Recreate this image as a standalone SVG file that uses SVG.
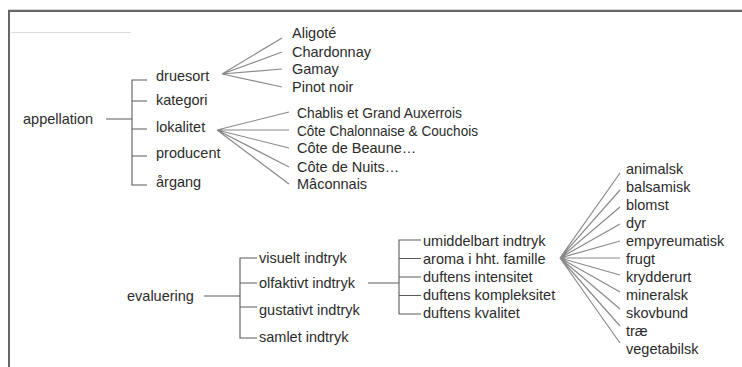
<svg xmlns="http://www.w3.org/2000/svg" width="742" height="367" viewBox="0 0 742 367">
<style>
text{font-family:"Liberation Sans",Arial,sans-serif;font-size:14.5px;fill:#2b2b2b}
.br{fill:none;stroke:#5a5a5a;stroke-width:1.1}
.fan{fill:none;stroke:#8a8a8a;stroke-width:1.2}
</style>
<rect width="742" height="367" fill="#ffffff"/>
<g id="frame">
<line x1="8" y1="9.5" x2="742" y2="9.5" stroke="#d8d8d8" stroke-width="1"/>
<line x1="8" y1="11" x2="742" y2="11" stroke="#666666" stroke-width="2"/>
<line x1="9" y1="10" x2="9" y2="367" stroke="#666666" stroke-width="2"/>
<line x1="11" y1="32.5" x2="131" y2="32.5" stroke="#dcdcdc" stroke-width="1"/>
</g>
<g id="connectors">
<path class="br" d="M106,119 H132 M147,80 H132 V185 H147 M132,101 H147 M132,129 H147 M132,156 H147"/>
<path class="fan" d="M222,74 L282,38 M222,74 L282,52 M222,74 L282,69 M222,74 L282,87"/>
<path class="fan" d="M217,130 L289,112 M217,130 L289,130 M217,130 L289,148 M217,130 L289,167 M217,130 L289,184"/>
<path class="br" d="M204,296 H240 M257,258 H240 V338 H257 M240,283 H257 M240,307 H257"/>
<path class="br" d="M368,283 H399 M421,240 H399 V314 H421 M399,258.5 H421 M399,277 H421 M399,295.5 H421"/>
<path class="fan" d="M560,258 L620,173 M560,258 L620,190 M560,258 L620,207 M560,258 L620,224 M560,258 L620,241 M560,258 L620,258 M560,258 L620,275 M560,258 L620,292 M560,258 L620,309 M560,258 L620,326 M560,258 L620,343"/>
</g>
<g id="appellation"><text x="23" y="124">appellation</text></g>
<g id="druesort"><text x="156" y="81">druesort</text></g>
<g id="kategori"><text x="156" y="105">kategori</text></g>
<g id="lokalitet"><text x="156" y="132">lokalitet</text></g>
<g id="producent"><text x="156" y="158">producent</text></g>
<g id="argang"><text x="156" y="187">årgang</text></g>
<g id="aligote"><text x="292" y="38">Aligoté</text></g>
<g id="chardonnay"><text x="292" y="57">Chardonnay</text></g>
<g id="gamay"><text x="292" y="74">Gamay</text></g>
<g id="pinot"><text x="292" y="92">Pinot noir</text></g>
<g id="chablis"><text x="297" y="118" textLength="165" lengthAdjust="spacingAndGlyphs">Chablis et Grand Auxerrois</text></g>
<g id="chalonnaise"><text x="297" y="136" textLength="181" lengthAdjust="spacingAndGlyphs">Côte Chalonnaise &amp; Couchois</text></g>
<g id="beaune"><text x="297" y="153">Côte de Beaune…</text></g>
<g id="nuits"><text x="297" y="172">Côte de Nuits…</text></g>
<g id="maconnais"><text x="297" y="189">Mâconnais</text></g>
<g id="evaluering"><text x="127" y="301">evaluering</text></g>
<g id="visuelt"><text x="259" y="263">visuelt indtryk</text></g>
<g id="olfaktivt"><text x="259" y="288">olfaktivt indtryk</text></g>
<g id="gustativt"><text x="259" y="315">gustativt indtryk</text></g>
<g id="samlet"><text x="259" y="342">samlet indtryk</text></g>
<g id="umiddelbart"><text x="423" y="246">umiddelbart indtryk</text></g>
<g id="aroma"><text x="423" y="264">aroma i hht. famille</text></g>
<g id="intensitet"><text x="423" y="282">duftens intensitet</text></g>
<g id="kompleksitet"><text x="423" y="300">duftens kompleksitet</text></g>
<g id="kvalitet"><text x="423" y="318">duftens kvalitet</text></g>
<g id="animalsk"><text x="626" y="174">animalsk</text></g>
<g id="balsamisk"><text x="626" y="192">balsamisk</text></g>
<g id="blomst"><text x="626" y="210">blomst</text></g>
<g id="dyr"><text x="626" y="228">dyr</text></g>
<g id="empyreumatisk"><text x="626" y="246">empyreumatisk</text></g>
<g id="frugt"><text x="626" y="264">frugt</text></g>
<g id="krydderurt"><text x="626" y="282">krydderurt</text></g>
<g id="mineralsk"><text x="626" y="300">mineralsk</text></g>
<g id="skovbund"><text x="626" y="318">skovbund</text></g>
<g id="trae"><text x="626" y="336">træ</text></g>
<g id="vegetabilsk"><text x="626" y="354">vegetabilsk</text></g>
</svg>
